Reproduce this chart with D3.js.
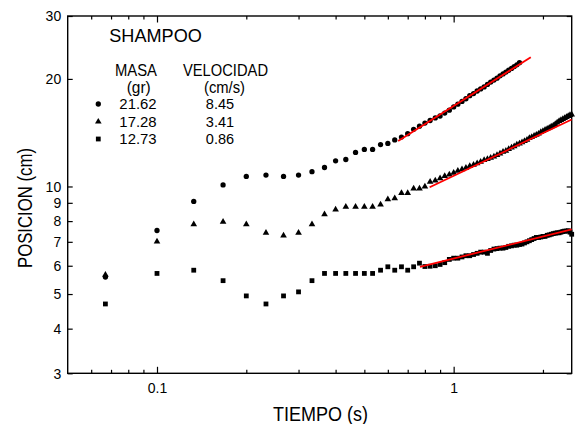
<!DOCTYPE html>
<html><head><meta charset="utf-8">
<script src="https://cdn.jsdelivr.net/npm/d3@7"></script>
<style>
body{margin:0;background:#fff}
svg{display:block}
text{font-family:"Liberation Sans",Arial,sans-serif;fill:#000}
</style>
</head><body>
<svg id="chart" width="576" height="424"></svg>
<script>
// ---- data ----
const tiempo = [0.067,0.1,0.133,0.167,0.2,0.233,0.267,0.3,0.333,0.367,0.4,0.433,0.467,0.5,0.533,0.567,0.6,0.633,0.667,0.7,0.733,0.767,0.8,0.833,0.867,0.9,0.933,0.967,1.0,1.033,1.067,1.1,1.133,1.167,1.2,1.233,1.267,1.3,1.333,1.367,1.4,1.433,1.467,1.5,1.533,1.567,1.6,1.633,1.667,1.7,1.733,1.767,1.8,1.833,1.867,1.9,1.933,1.967,2.0,2.033,2.067,2.1,2.133,2.167,2.2,2.233,2.267,2.3,2.333,2.367,2.4,2.433,2.467,2.5];
const posCirculo = [5.58,7.53,9.08,10.1,10.67,10.76,10.67,10.76,11.0,11.3,11.8,11.9,12.45,12.7,12.7,13.1,13.2,13.5,13.75,14.05,14.45,14.75,15.05,15.3,15.55,15.75,16.05,16.35,16.7,17.0,17.3,17.6,17.95,18.2,18.5,18.75,19.0,19.3,19.6,19.85,20.1,20.4,20.65,20.9,21.15,21.4,21.65,21.9,22.2];
const posTriangulo = [5.66,7.01,7.84,7.96,7.84,7.42,7.29,7.42,7.84,8.36,8.62,8.77,8.77,8.77,8.77,8.9,9.2,9.27,9.58,9.58,9.87,9.87,10.0,10.3,10.38,10.54,10.7,10.8,10.92,11.06,11.17,11.27,11.4,11.5,11.6,11.72,11.85,11.93,12.02,12.13,12.25,12.37,12.5,12.59,12.72,12.85,12.95,13.1,13.18,13.3,13.4,13.5,13.65,13.75,13.85,13.95,14.05,14.2,14.3,14.4,14.5,14.6,14.7,14.8,14.95,15.1,15.25,15.35,15.45,15.55,15.65,15.75,15.85,15.9];
const posCuadrado = [4.69,5.71,5.83,5.45,4.94,4.69,4.94,5.07,5.45,5.71,5.71,5.71,5.71,5.71,5.71,5.83,5.96,5.83,5.96,5.83,5.96,6.1,5.97,5.98,6.0,6.05,6.12,6.25,6.3,6.3,6.35,6.4,6.4,6.45,6.5,6.55,6.55,6.5,6.62,6.68,6.7,6.72,6.72,6.75,6.8,6.82,6.85,6.85,6.88,6.9,6.95,7.0,7.05,7.1,7.15,7.2,7.2,7.22,7.25,7.25,7.3,7.32,7.35,7.38,7.4,7.42,7.42,7.45,7.48,7.5,7.5,7.52,7.45,7.35];
const ajusteCirculoX = [0.65, 1.82],  ajusteCirculoY = [13.4, 23.0];
const ajusteTrianguloX = [0.83, 2.5], ajusteTrianguloY = [9.95, 15.4];
const ajusteCuadradoX = [0.77, 2.5],  ajusteCuadradoY = [5.96, 7.58];
const yTicks = [3,4,5,6,7,8,9,10,20,30];
const xMajorTicks = [0.1, 1];
const xMinorTicks = [0.06,0.07,0.08,0.09,0.2,0.3,0.4,0.5,0.6,0.7,0.8,0.9,2];
const masa = ["21.62","17.28","12.73"];
const velocidad = ["8.45","3.41","0.86"];
const titulo = "SHAMPOO";

// ---- chart ----
const svg = d3.select("#chart");
const L = 67.7, R = 571.7, T = 16, B = 373.3;
const x = d3.scaleLog().domain([0.05, 2.5]).range([L, R]);
const y = d3.scaleLog().domain([3, 30]).range([B, T]);

// axes (ticks inward)
const gB = svg.append("g").attr("transform", `translate(0,${B})`);
gB.call(d3.axisBottom(x).tickValues(xMajorTicks).tickSize(-6.5).tickPadding(10).tickFormat(d3.format("")));
const gBm = svg.append("g").attr("transform", `translate(0,${B})`);
gBm.call(d3.axisBottom(x).tickValues(xMinorTicks).tickSize(-3.5).tickFormat(""));
const gT = svg.append("g").attr("transform", `translate(0,${T})`);
gT.call(d3.axisTop(x).tickValues(xMajorTicks).tickSize(-6.5).tickFormat(""));
const gTm = svg.append("g").attr("transform", `translate(0,${T})`);
gTm.call(d3.axisTop(x).tickValues(xMinorTicks).tickSize(-3.5).tickFormat(""));
const gL = svg.append("g").attr("transform", `translate(${L},0)`);
gL.call(d3.axisLeft(y).tickValues(yTicks).tickSize(-5).tickPadding(6.5).tickFormat(d3.format("")));
const gR = svg.append("g").attr("transform", `translate(${R},0)`);
gR.call(d3.axisRight(y).tickValues(yTicks).tickSize(-5).tickFormat(""));
svg.selectAll(".domain").remove();
svg.selectAll(".tick line").attr("stroke","#000").attr("stroke-width",1.2);
svg.selectAll(".tick text").attr("font-size",14).attr("font-family",'"Liberation Sans",Arial,sans-serif').attr("fill","#000");
gL.selectAll(".tick text").attr("dy","0.34em");

svg.append("rect").attr("x",L).attr("y",T).attr("width",R-L).attr("height",B-T)
  .attr("fill","none").attr("stroke","#000").attr("stroke-width",1.4);

// markers
const symCircle = d3.symbol().type(d3.symbolCircle).size(22);
const symTri = d3.symbol().type(d3.symbolTriangle).size(19);
const symSq = d3.symbol().type(d3.symbolSquare).size(23);

function serie(vals, sym){
  svg.append("g").selectAll("path").data(vals).join("path")
    .attr("d", sym())
    .attr("transform", (d,i)=>`translate(${x(tiempo[i])},${y(d)})`)
    .attr("fill","#000");
}
serie(posCuadrado, symSq);
serie(posTriangulo, symTri);
serie(posCirculo, symCircle);

// fit lines
const line = d3.line().x(d=>x(d[0])).y(d=>y(d[1]));
[[ajusteCirculoX,ajusteCirculoY],[ajusteTrianguloX,ajusteTrianguloY],[ajusteCuadradoX,ajusteCuadradoY]].forEach(([xs,ys])=>{
  svg.append("path").datum(xs.map((v,i)=>[v,ys[i]])).attr("d",line)
    .attr("fill","none").attr("stroke","#ff0000").attr("stroke-width",1.8);
});

// legend / annotation
function txt(s, xx, yy, size, len, anchor){
  const t = svg.append("text").attr("x",xx).attr("y",yy).attr("font-size",size)
    .attr("text-anchor",anchor||"start").text(s);
  if(len){ t.attr("textLength",len).attr("lengthAdjust","spacingAndGlyphs"); }
  return t;
}
txt(titulo, 109.3, 42.3, 19, 92.5);
txt("MASA", 136, 76, 16.5, 42, "middle");
txt("VELOCIDAD", 225.5, 76, 16.5, 85, "middle");
txt("(gr)", 138.7, 92.5, 16, 24, "middle");
txt("(cm/s)", 224.5, 92.5, 16, 41, "middle");
const rowsY = [109.3, 127, 144.3];
masa.forEach((m,i)=>txt(m, 138, rowsY[i], 15.5, 37.3, "middle"));
velocidad.forEach((v,i)=>txt(v, 220, rowsY[i], 15.5, 28.3, "middle"));
const legSyms = [symCircle, symTri, symSq];
legSyms.forEach((s,i)=>{
  svg.append("path").attr("d", s()).attr("transform",`translate(98.3,${rowsY[i]-5.3})`).attr("fill","#000");
});

// axis titles
txt("TIEMPO (s)", 320.5, 421, 19.5, 95, "middle");
svg.append("text").attr("transform","translate(32,208) rotate(-90)")
  .attr("font-size",20).attr("text-anchor","middle")
  .attr("textLength",120).attr("lengthAdjust","spacingAndGlyphs")
  .text("POSICION (cm)");
</script>
</body></html>
